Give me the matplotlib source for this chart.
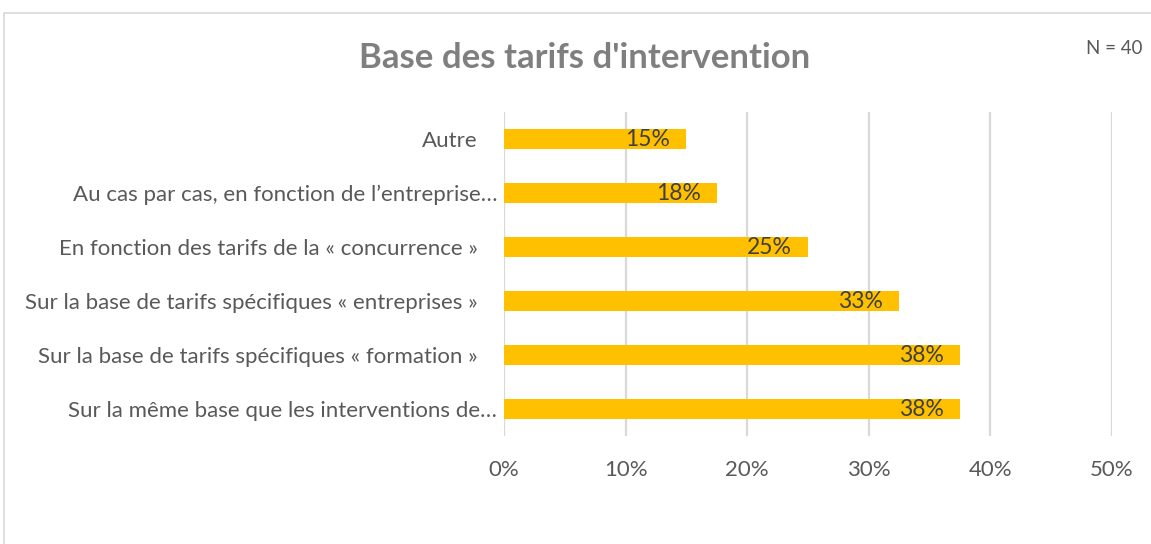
import math
import matplotlib
matplotlib.use("Agg")
import matplotlib.pyplot as plt
from matplotlib.patches import Rectangle

plt.rcParams['font.family'] = ['Lato', 'DejaVu Sans']

categories = [
    "Autre",
    "Au cas par cas, en fonction de l’entreprise…",
    "En fonction des tarifs de la « concurrence »",
    "Sur la base de tarifs spécifiques « entreprises »",
    "Sur la base de tarifs spécifiques « formation »",
    "Sur la même base que les interventions de…",
]
values = [15.0, 17.5, 25.0, 32.5, 37.5, 37.5]
xticks = [0, 10, 20, 30, 40, 50]
title = "Base des tarifs d'intervention"
note = "N = 40"

W, H = 1151, 544
fig = plt.figure(figsize=(W / 100, H / 100), dpi=100)
fig.patch.set_facecolor("white")

# outer chart border (partially visible)
fig.patches.append(Rectangle((4 / W, -0.2), 1.5, 1 - 13 / H + 0.2,
                             transform=fig.transFigure, fill=False,
                             edgecolor="#D9D9D9", linewidth=1.2))

ax = fig.add_axes([504 / W, 1 - 436 / H, (1112 - 504) / W, (436 - 112) / H])
ypos = list(range(len(categories)))
ax.barh(ypos, values, height=0.365, color="#FFC000", zorder=3)
ax.set_ylim(len(categories) - 0.5, -0.5)
ax.set_xlim(0, 50)
ax.set_xticks(xticks)
ax.set_xticklabels([f"{t}%" for t in xticks])
ax.set_yticks(ypos)
ax.set_yticklabels(categories)
for s in ax.spines.values():
    s.set_visible(False)
ax.grid(axis="x", color="#D9D9D9", linewidth=1.6, zorder=0)
ax.tick_params(axis="both", length=0, colors="#595959", labelsize=16)
ax.tick_params(axis="x", pad=17)
for lbl, tick in zip(categories, ax.yaxis.get_major_ticks()):
    tick.set_pad(5 if lbl.endswith("…") else 19)

for y, v in zip(ypos, values):
    ax.annotate(f"{math.floor(v + 0.5)}%", xy=(v, y), xytext=(-16, 0),
                textcoords="offset pixels",
                ha="right", va="center", fontsize=16.5, color="#404040", zorder=4)

fig.text(585 / W, 1 - 58 / H, title, ha="center", va="center",
         fontsize=25, fontweight="bold", color="#7F7F7F")
fig.text(1143 / W, 1 - 48 / H, note, ha="right", va="center",
         fontsize=13.5, color="#595959")

fig.savefig("out.png", dpi=100, facecolor="white")
